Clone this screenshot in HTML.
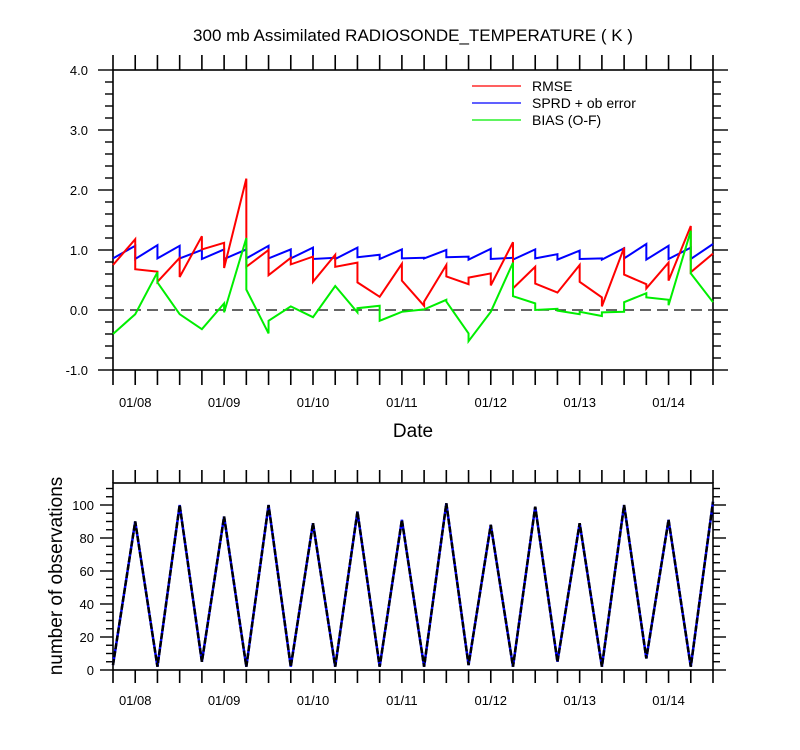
<!DOCTYPE html>
<html><head><meta charset="utf-8">
<style>
html,body{margin:0;padding:0;background:#fff;}
svg{display:block;font-family:"Liberation Sans",Arial,sans-serif;}
</style></head>
<body>
<svg id="chart" width="800" height="750" viewBox="0 0 800 750" xmlns="http://www.w3.org/2000/svg">
<rect width="800" height="750" fill="#fff"/>
<text x="413" y="41" font-size="17" text-anchor="middle">300 mb Assimilated RADIOSONDE_TEMPERATURE ( K )</text>
<g id="gtop"></g>
<g id="gbot"></g>
<text x="413" y="437" font-size="19" text-anchor="middle">Date</text>
<text x="0" y="0" font-size="19" text-anchor="middle" transform="translate(62,576) rotate(-90)">number of observations</text>
<g>
<line x1="472" y1="86" x2="521" y2="86" stroke="#f00" stroke-width="1.3"/>
<text x="532" y="91" font-size="14">RMSE</text>
<line x1="472" y1="103" x2="521" y2="103" stroke="#00f" stroke-width="1.3"/>
<text x="532" y="108" font-size="14">SPRD + ob error</text>
<line x1="472" y1="120" x2="521" y2="120" stroke="#0e0" stroke-width="1.3"/>
<text x="532" y="125" font-size="14">BIAS (O-F)</text>
</g>
</svg>
<script>
// 6-hourly intervals: each interval k spans time k -> k+1, start/end values
const dateLabels = ["01/08","01/09","01/10","01/11","01/12","01/13","01/14"];
const rmseStart = [0.75,0.68,0.47,0.55,1.01,0.70,0.72,0.58,0.76,0.47,0.72,0.46,0.22,0.49,0.14,0.56,0.54,0.41,0.36,0.44,0.29,0.47,0.06,0.59,0.36,0.49,0.63];
const rmseEnd   = [1.18,0.64,0.87,1.23,1.12,2.19,1.00,0.87,0.89,0.92,0.79,0.22,0.77,0.07,0.75,0.43,0.61,1.13,0.72,0.29,0.75,0.21,1.04,0.43,0.79,1.40,0.94];
const sprdStart = [0.86,0.85,0.86,0.86,0.85,0.85,0.86,0.86,0.86,0.85,0.85,0.88,0.85,0.86,0.86,0.88,0.84,0.85,0.84,0.86,0.84,0.85,0.84,0.86,0.84,0.85,0.85];
const sprdEnd   = [1.07,1.08,1.07,1.00,1.01,1.01,1.07,1.01,1.04,0.87,1.04,0.92,1.01,0.87,1.00,0.89,1.02,0.87,1.01,0.93,0.99,0.86,1.03,1.10,1.07,1.04,1.10];
const biasStart = [-0.40,-0.07,0.46,-0.07,-0.32,-0.04,0.34,-0.18,0.06,-0.12,0.40,0.03,-0.18,-0.03,0.01,0.14,-0.52,-0.03,0.23,0.00,-0.01,-0.03,-0.04,0.13,0.21,0.08,0.61];
const biasEnd   = [-0.07,0.63,-0.07,-0.32,0.11,1.20,-0.39,0.06,-0.12,0.40,-0.04,0.07,-0.03,0.01,0.17,-0.39,-0.03,0.79,0.11,0.02,-0.07,-0.10,-0.03,0.28,0.17,1.32,0.13];
const obsCount  = [3,90,2,100,5,93,2,100,2,89,2,96,2,91,2,101,3,88,2,99,5,89,2,100,7,91,2,102];
const topTicks = [-1,0,1,2,3,4];
const botTicks = [0,20,40,60,80,100];

const NS="http://www.w3.org/2000/svg";
const L=113, R=713, STEP=(R-L)/27;
const xT = t => L + t*STEP;
const yTop = v => 310 - v*60;
const yBot = v => 670 - v*1.65;
function mk(tag, attrs, parent){const e=document.createElementNS(NS,tag);for(const k in attrs)e.setAttribute(k,attrs[k]);parent.appendChild(e);return e;}
const gTop=document.getElementById('gtop'), gBot=document.getElementById('gbot');

function frame(g, y0, y1, tickLen, name){
  for(let t=0;t<=27;t++){
    const x=xT(t);
    const a=mk('line',{x1:x,y1:y0-tickLen,x2:x,y2:y0,stroke:'#000','stroke-width':1.6},g);
    
    
    const b=mk('line',{x1:x,y1:y1,x2:x,y2:y1+tickLen,stroke:'#000','stroke-width':1.6},g);
    
    
  }
  const r=mk('rect',{x:L,y:y0,width:R-L,height:y1-y0,fill:'none',stroke:'#000','stroke-width':1.6},g);
  
  
  dateLabels.forEach((d,i)=>{
    const t=mk('text',{x:xT(1+4*i),y:y1+tickLen+22,'font-size':13,'text-anchor':'middle'},g);
    
    
    t.textContent=d;
  });
}
function yAxis(g, ticks, yf, minorStep, maj, minr, fmt, name, lblX, yMinPix){
  const lo=ticks[0];
  for(let i=0;;i++){
    const v=lo+i*minorStep;
    const y=yf(v); if(y<yMinPix-0.5) break;
    const isMaj=ticks.some(t=>Math.abs(t-v)<1e-6);
    const len=isMaj?maj:minr;
    const a=mk('line',{x1:L-len,y1:y,x2:L,y2:y,stroke:'#000','stroke-width':1.4},g);
    
    
    const b=mk('line',{x1:R,y1:y,x2:R+len,y2:y,stroke:'#000','stroke-width':1.4},g);
    
    
  }
  ticks.forEach(v=>{
    const t=mk('text',{x:lblX,y:yf(v)+5,'font-size':13,'text-anchor':'end'},g);
    
    
    t.textContent=fmt(v);
  });
}
frame(gTop,70,370,15,'top');
yAxis(gTop, topTicks, yTop, 0.2, 15, 8, v=>v.toFixed(1), 'top', 88, 70);
frame(gBot,483,670,13,'bottom');
yAxis(gBot, botTicks, yBot, 5, 13, 7, v=>String(v), 'bottom', 94, 483);

const zl=mk('line',{x1:L,y1:yTop(0),x2:R,y2:yTop(0),stroke:'#333','stroke-width':1.6,'stroke-dasharray':'11,6'},gTop);



function seg(starts, ends, color, name){
  let d='';
  starts.forEach((s,k)=>{ d+=(k?'L':'M')+xT(k)+','+yTop(s)+'L'+xT(k+1)+','+yTop(ends[k]); });
  const p=mk('path',{d:d,fill:'none',stroke:color,'stroke-width':2,'stroke-linejoin':'miter'},gTop);
  
  
}
seg(sprdStart,sprdEnd,'#00f','sprd-line');
seg(rmseStart,rmseEnd,'#f00','rmse-line');
seg(biasStart,biasEnd,'#0e0','bias-line');

let d2='';
obsCount.forEach((v,t)=>{ d2+=(t?'L':'M')+xT(t)+','+yBot(v); });
const o1=mk('path',{d:d2,fill:'none',stroke:'#00f','stroke-width':2.5},gBot);


const o2=mk('path',{d:d2,fill:'none',stroke:'#000','stroke-width':2.5,'stroke-dasharray':'6,2'},gBot);


</script>
</body></html>
